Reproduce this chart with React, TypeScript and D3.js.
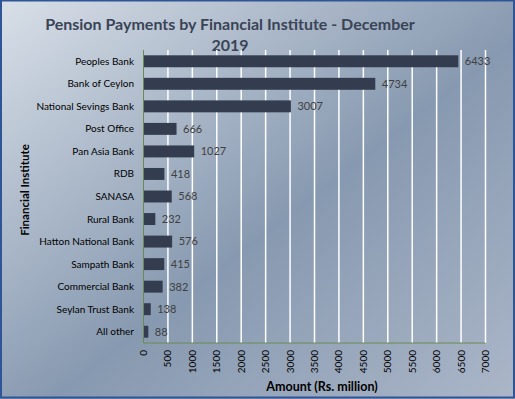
import React from "react";
import * as d3 from "d3";

const institutes = [
  "Peoples Bank",
  "Bank of Ceylon",
  "National Sevings Bank",
  "Post Office",
  "Pan Asia Bank",
  "RDB",
  "SANASA",
  "Rural Bank",
  "Hatton National Bank",
  "Sampath Bank",
  "Commercial Bank",
  "Seylan Trust Bank",
  "All other",
];
const amounts = [6433, 4734, 3007, 666, 1027, 418, 568, 232, 576, 415, 382, 138, 88];
const xTicks = d3.range(0, 7001, 500);

const W = 515;
const H = 399;
const left = 143.5;
const right = 485.5;
const top = 50;
const bottom = 343;
const font = "Lato, 'Open Sans', sans-serif";

export default function App() {
  const x = d3.scaleLinear().domain([0, 7000]).range([left, right]);
  const y = d3
    .scaleBand<string>()
    .domain(institutes)
    .range([top, bottom])
    .paddingInner(0.47)
    .paddingOuter(0.235);

  return (
    <svg width={W} height={H} style={{ position: "absolute", left: 0, top: 0, whiteSpace: "pre" }}>
      <defs>
        <linearGradient id="bg" x1="0" y1="0" x2="1" y2="1">
          <stop offset="0" stopColor="#d8dfe8" />
          <stop offset="0.55" stopColor="#8799b0" />
          <stop offset="1" stopColor="#abb6c8" />
        </linearGradient>
      </defs>
      <rect x={0} y={0} width={W} height={H} fill="url(#bg)" />
      <rect x={1} y={0.5} width={W - 2} height={H - 2} fill="none" stroke="#2f5597" strokeWidth={2} />

      <text x={230} y={30} textAnchor="middle" fontFamily={font} fontWeight="bold" fontSize={16} fill="#3a4456">
        {"Pension Payments by Financial  Institute - December"}
      </text>
      <text x={230} y={51} textAnchor="middle" fontFamily={font} fontWeight="bold" fontSize={16} fill="#3a4456">
        2019
      </text>

      {xTicks.slice(1).map((t) => (
        <line key={t} x1={x(t)} x2={x(t)} y1={top} y2={bottom} stroke="#ffffff" strokeWidth={1.5} />
      ))}
      <line x1={left} x2={right} y1={bottom} y2={bottom} stroke="#6a8a50" strokeWidth={1} />
      <line x1={left} x2={left} y1={top} y2={bottom} stroke="#6a8a50" strokeWidth={1} />

      {institutes.map((name, i) => {
        const yy = y(name)!;
        const cy = yy + y.bandwidth() / 2;
        return (
          <g key={name}>
            <rect x={x(0) + 0.5} y={yy} width={x(amounts[i]) - x(0)} height={y.bandwidth()} fill="#333d4f" />
            <text x={134} y={cy} dy="0.35em" textAnchor="end" fontFamily={font} fontSize={10} fill="#000">
              {name}
            </text>
            <text x={x(amounts[i]) + 7} y={cy} dy="0.35em" fontFamily={font} fontSize={11} fill="#404040">
              {amounts[i]}
            </text>
          </g>
        );
      })}

      {xTicks.map((t) => (
        <text
          key={t}
          transform={`translate(${x(t) + 3.5},${350}) rotate(-90)`}
          textAnchor="end"
          fontFamily={font}
          fontSize={10}
          fill="#000"
        >
          {t}
        </text>
      ))}

      <text x={322} y={391} textAnchor="middle" fontFamily={font} fontWeight="bold" fontSize={12.5} fill="#000">
        Amount (Rs. million)
      </text>
      <text
        transform={`translate(29,190) rotate(-90)`}
        textAnchor="middle"
        fontFamily={font}
        fontWeight="bold"
        fontSize={11.5}
        fill="#000"
      >
        {"Financial  Institute"}
      </text>
    </svg>
  );
}
